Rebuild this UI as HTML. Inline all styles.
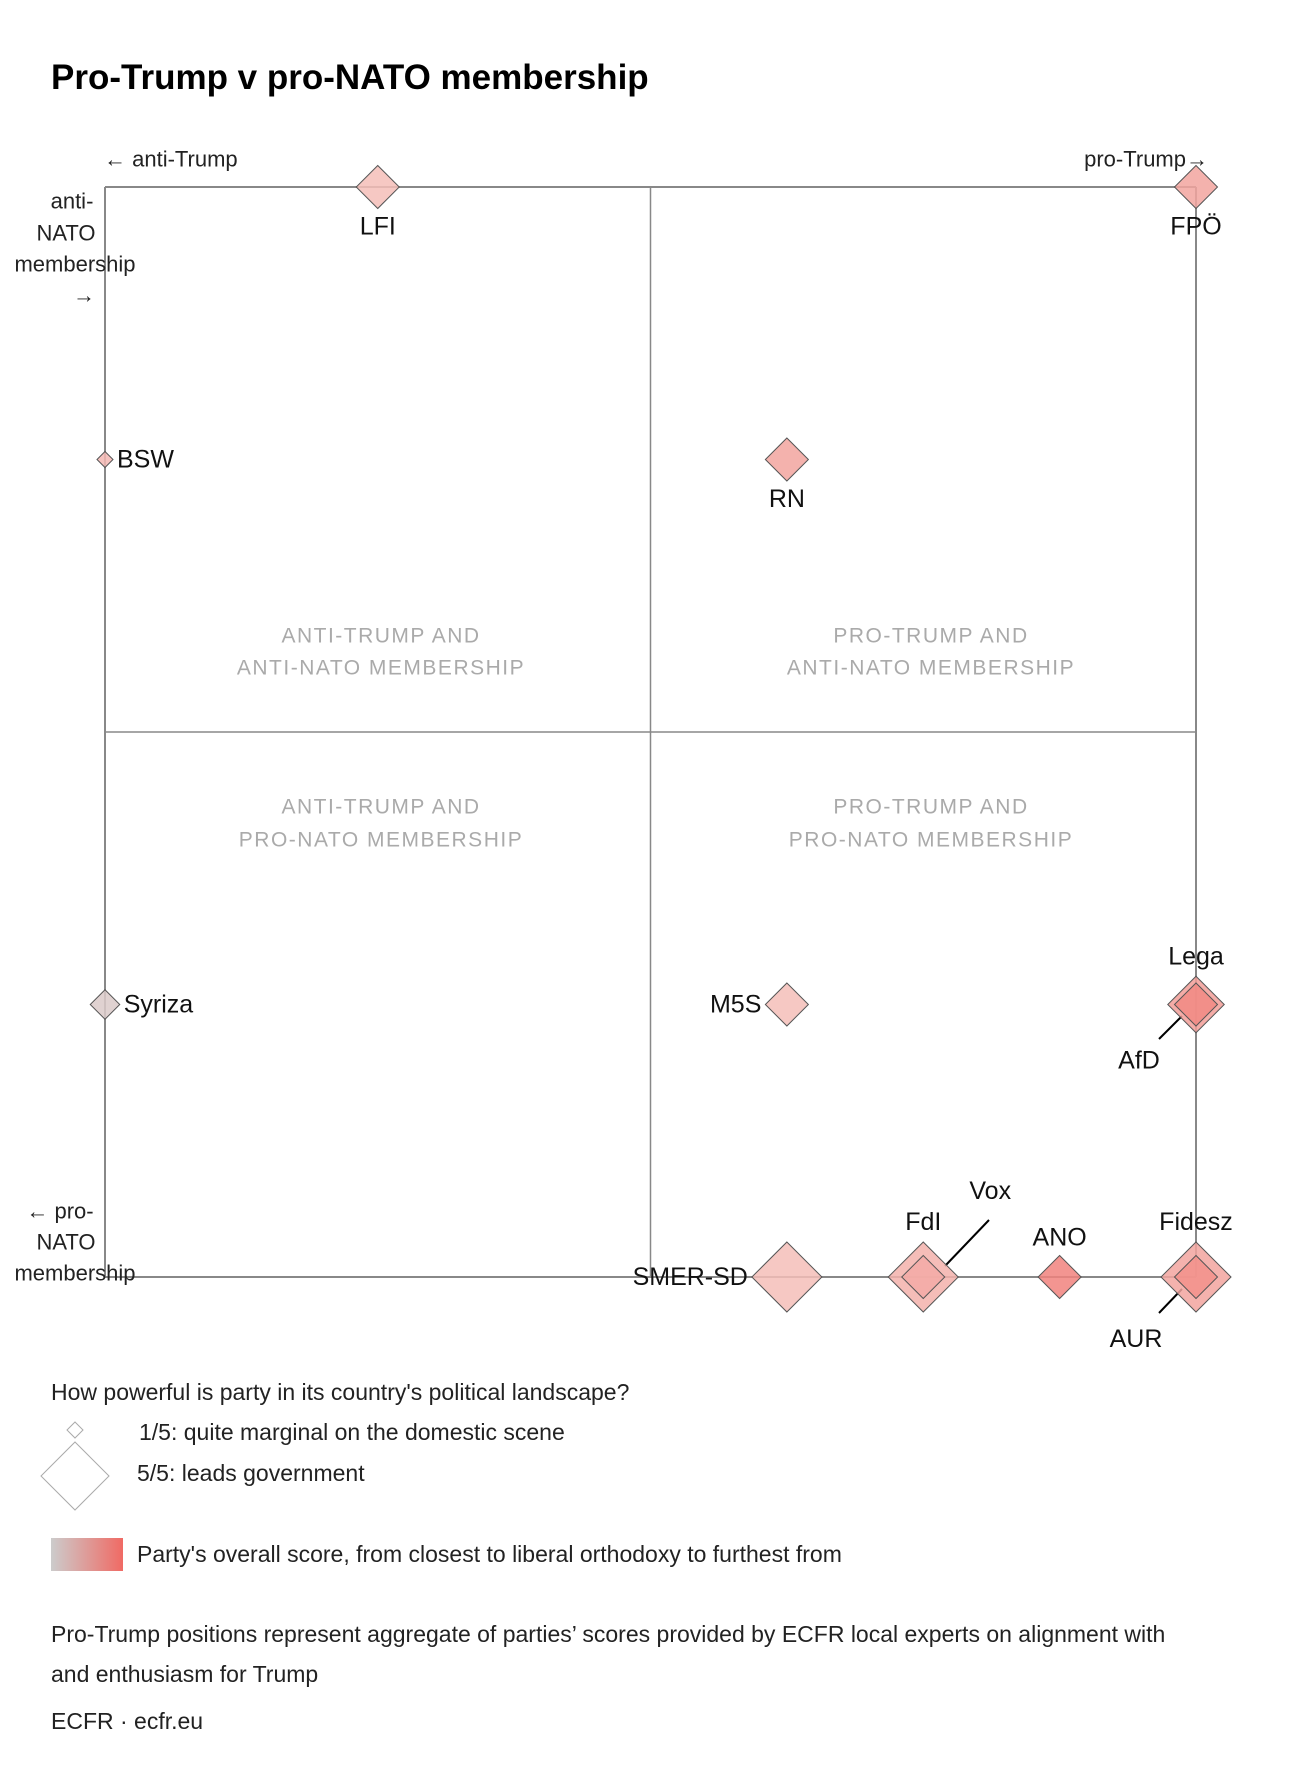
<!DOCTYPE html>
<html><head><meta charset="utf-8"><style>
body{margin:0;background:#fff;}
svg{display:block;font-family:"Liberation Sans",sans-serif;}
</style></head><body>
<svg id="chart" width="1300" height="1784" viewBox="0 0 1300 1784" xmlns="http://www.w3.org/2000/svg">
<text x="51" y="89" font-size="35" font-weight="bold" fill="#000">Pro-Trump v pro-NATO membership</text>
<g id="grid"></g>
<g id="axislabels" font-size="22" fill="#222">
<text x="104" y="159" dominant-baseline="central">← anti-Trump</text>
<text x="1208" y="159" text-anchor="end" dominant-baseline="central">pro-Trump→</text>
<g text-anchor="middle" dominant-baseline="central">
<text x="72" y="201">anti-</text><text x="66" y="233">NATO</text><text x="75" y="264">membership</text><text x="84" y="295">→</text></g>
<g text-anchor="middle" dominant-baseline="central">
<text x="60" y="1211">← pro-</text><text x="66" y="1242">NATO</text><text x="75" y="1273">membership</text></g>
</g>
<g font-size="21" fill="#aaa" text-anchor="middle" letter-spacing="1.5" dominant-baseline="central">
<text x="381" y="636">ANTI-TRUMP AND</text><text x="381" y="668">ANTI-NATO MEMBERSHIP</text>
<text x="931" y="636">PRO-TRUMP AND</text><text x="931" y="668">ANTI-NATO MEMBERSHIP</text>
<text x="381" y="807">ANTI-TRUMP AND</text><text x="381" y="840">PRO-NATO MEMBERSHIP</text>
<text x="931" y="807">PRO-TRUMP AND</text><text x="931" y="840">PRO-NATO MEMBERSHIP</text>
</g>
<g id="leaders" stroke="#000" stroke-width="2">
<line x1="989" y1="1220" x2="945" y2="1266"/>
<line x1="1182" y1="1016" x2="1159" y2="1039"/>
<line x1="1182" y1="1289" x2="1159" y2="1313"/>
</g>
<g id="marks"></g>
<g id="labels" font-size="25" fill="#111" dominant-baseline="central"></g>
<g font-size="23" fill="#222" dominant-baseline="central" transform="translate(0,-14)">
<text x="51" y="1406">How powerful is party in its country's political landscape?</text>
<path d="M75 1436 L83 1444 L75 1452 L67 1444Z" fill="#fff" stroke="#aaa"/>
<text x="139" y="1446">1/5: quite marginal on the domestic scene</text>
<path d="M75 1456 L109 1490 L75 1524 L41 1490Z" fill="#fff" stroke="#aaa"/>
<text x="137" y="1487">5/5: leads government</text>
<defs><linearGradient id="g" x1="0" x2="1"><stop offset="0" stop-color="#cccccc"/><stop offset="1" stop-color="#f06a64"/></linearGradient></defs>
<rect x="51" y="1552" width="72" height="33" fill="url(#g)"/>
<text x="137" y="1568">Party's overall score, from closest to liberal orthodoxy to furthest from</text>
<text x="51" y="1648">Pro-Trump positions represent aggregate of parties’ scores provided by ECFR local experts on alignment with</text>
<text x="51" y="1688">and enthusiasm for Trump</text>
<text x="51" y="1735">ECFR · ecfr.eu</text>
</g>
</svg>
<script>
const parties = ["LFI","FPÖ","BSW","RN","Syriza","M5S","Lega","AfD","SMER-SD","FdI","Vox","ANO","Fidesz","AUR"];
const trumpScore = [-0.5,1,-1,0.25,-1,0.25,1,1,0.25,0.5,0.5,0.75,1,1];
const natoScore = [-1,-1,-0.5,-0.5,0.5,0.5,0.5,0.5,1,1,1,1,1,1];
const power = [3,3,1,3,2,3,4,3,5,5,3,3,5,3];
const overallScore = [0.4,0.6,0.45,0.6,0.1,0.4,0.65,0.8,0.4,0.5,0.55,0.85,0.6,0.75];
const NS="http://www.w3.org/2000/svg";
const L=105,R=1196,T=187,B=1277;
const xs=v=>L+(v+1)/2*(R-L);
const ys=v=>T+(v+1)/2*(B-T);
const sz=p=>8+(p-1)*6.75;
function col(s){
 const st=[[0,[208,205,205]],[0.35,[244,196,192]],[1,[240,112,106]]];
 let a=st[0],b=st[1];if(s>st[1][0]){a=st[1];b=st[2];}
 const t=(s-a[0])/(b[0]-a[0]);
 return `rgb(${a[1].map((c,i)=>Math.round(c+(b[1][i]-c)*t)).join(',')})`;
}
const grid=document.getElementById('grid');
[[L,T,R,T],[L,B,R,B],[L,T,L,B],[R,T,R,B],[xs(0),T,xs(0),B],[L,ys(0),R,ys(0)]].forEach((c,i)=>{
 const l=document.createElementNS(NS,'line');
 l.setAttribute('x1',c[0]);l.setAttribute('y1',c[1]);l.setAttribute('x2',c[2]);l.setAttribute('y2',c[3]);
 l.setAttribute('stroke','#888');l.setAttribute('stroke-width',i<4?2:1.5);
 
 
 grid.appendChild(l);
});
const place={"LFI":[0,"middle"],"FPÖ":[0,"middle"],"BSW":[1,"start"],"RN":[0,"middle"],"Syriza":[1,"start"],"M5S":[-1,"end"],"Lega":[0,"middle"],"AfD":[-57,"middle"],"SMER-SD":[-1,"end"],"FdI":[0,"middle"],"Vox":[67,"middle"],"ANO":[0,"middle"],"Fidesz":[0,"middle"],"AUR":[-60,"middle"]};
const marks=document.getElementById('marks'),labels=document.getElementById('labels');
const order=parties.map((p,i)=>i).sort((a,b)=>power[b]-power[a]);
order.forEach(i=>{
 const x=xs(trumpScore[i]),y=ys(natoScore[i]),h=sz(power[i]);
 const d=document.createElementNS(NS,'path');
 d.setAttribute('d',`M${x} ${y-h}L${x+h} ${y}L${x} ${y+h}L${x-h} ${y}Z`);
 d.setAttribute('fill',col(overallScore[i]));d.setAttribute('fill-opacity','0.85');
 d.setAttribute('stroke','#555');d.setAttribute('stroke-width','1');
 
 
 marks.appendChild(d);
});
parties.forEach((p,i)=>{
 const x=xs(trumpScore[i]),y=ys(natoScore[i]),h=sz(power[i]),pl=place[p];
 const t=document.createElementNS(NS,'text');
 let dx=pl[0];
 if(Math.abs(pl[0])===1)dx=pl[0]>0?h+4:-h-4;
 let yy=y;
 if(p==="LFI"||p==="FPÖ"||p==="RN")yy=y+h+18;
 if(p==="Lega")yy=y-h-20;
 if(p==="FdI"||p==="Fidesz")yy=y-h-20;
 if(p==="ANO")yy=y-h-18;
 if(p==="AfD")yy=y+56;
 if(p==="Vox")yy=y-86;
 if(p==="AUR")yy=y+62;
 t.setAttribute('x',x+dx);t.setAttribute('y',yy);t.setAttribute('text-anchor',pl[1]);
 t.textContent=p;
 
 
 labels.appendChild(t);
});
</script>
</body></html>
